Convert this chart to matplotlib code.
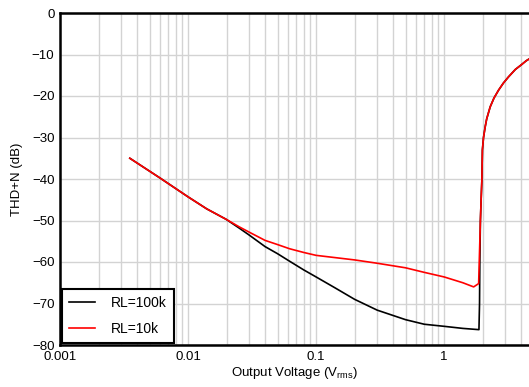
import matplotlib
matplotlib.use("Agg")
from matplotlib import pyplot as plt
from matplotlib.ticker import LogLocator, NullFormatter, FixedLocator, FixedFormatter

# Output voltage (Vrms) and THD+N (dB) for each load
v_100k = [0.00351, 0.006, 0.01, 0.014, 0.0198, 0.025, 0.03, 0.04, 0.05, 0.062,
          0.08, 0.1, 0.14, 0.2, 0.3, 0.5, 0.7, 1.0, 1.4, 1.87, 1.89, 1.90, 1.92,
          1.95, 1.97, 1.99, 2.03, 2.09, 2.15, 2.29, 2.45, 2.66, 2.9, 3.18, 3.6,
          4.0, 4.38, 4.6]
thd_100k = [-35.0, -39.7, -44.3, -47.2, -49.7, -51.8, -53.5, -56.3, -58.0, -59.8,
            -61.9, -63.6, -66.2, -69.0, -71.6, -73.9, -75.0, -75.5, -76.0, -76.3,
            -70.0, -60.0, -50.0, -44.0, -40.5, -33.0, -30.0, -27.5, -25.5, -22.6,
            -20.5, -18.6, -16.9, -15.4, -13.6, -12.5, -11.5, -11.1]

v_10k = [0.00351, 0.006, 0.01, 0.014, 0.0198, 0.025, 0.03, 0.04, 0.05, 0.062,
         0.08, 0.1, 0.2, 0.3, 0.5, 0.7, 1.0, 1.4, 1.70, 1.86, 1.88, 1.90, 1.92,
         1.95, 1.97, 1.99, 2.03, 2.09, 2.15, 2.29, 2.45, 2.66, 2.9, 3.18, 3.6,
         4.0, 4.38, 4.6]
thd_10k = [-35.0, -39.7, -44.3, -47.2, -49.7, -51.5, -52.8, -54.8, -55.8, -56.8,
           -57.7, -58.4, -59.5, -60.3, -61.4, -62.5, -63.6, -65.0, -66.0, -65.2,
           -60.0, -55.0, -50.0, -44.0, -40.5, -33.0, -30.0, -27.5, -25.5, -22.6,
           -20.5, -18.6, -16.9, -15.4, -13.6, -12.5, -11.5, -11.1]

x_ticks = [0.001, 0.01, 0.1, 1]
x_labels = ["0.001", "0.01", "0.1", "1"]
y_ticks = [0, -10, -20, -30, -40, -50, -60, -70, -80]

plt.rcParams["font.family"] = ["Liberation Sans", "DejaVu Sans"]
plt.rcParams["mathtext.fontset"] = "custom"
plt.rcParams["mathtext.rm"] = "Liberation Sans"

fig = plt.figure(figsize=(5.29, 3.87), dpi=100)
ax = fig.add_axes([60 / 529, 1 - 345 / 387, 1 - 60 / 529, 332 / 387])

ax.plot(v_100k, thd_100k, color="black", lw=1.2, label="RL=100k")
ax.plot(v_10k, thd_10k, color="#ff0000", lw=1.2, label="RL=10k")

ax.set_xscale("log")
ax.set_xlim(0.001, 4.6)
ax.set_ylim(-80, 0)
ax.xaxis.set_major_locator(FixedLocator(x_ticks))
ax.xaxis.set_major_formatter(FixedFormatter(x_labels))
ax.xaxis.set_minor_locator(LogLocator(base=10, subs=range(2, 10), numticks=20))
ax.xaxis.set_minor_formatter(NullFormatter())
ax.set_yticks(y_ticks)

ax.grid(True, which="both", color="#d3d3d3", lw=1.0)
ax.set_axisbelow(True)
ax.tick_params(which="both", length=0, labelsize=9.5, pad=4)
for side in ["top", "bottom", "left"]:
    ax.spines[side].set_linewidth(1.8)
ax.spines["right"].set_visible(False)

ax.set_xlabel("Output Voltage (V$_{\\mathregular{rms}}$)", fontsize=9.5, labelpad=2)
ax.set_ylabel("THD+N (dB)", fontsize=9.5, labelpad=6)

leg = ax.legend(loc="lower left", fontsize=10, borderaxespad=0.15, fancybox=False,
                handlelength=1.9, handletextpad=1.1, borderpad=0.5, labelspacing=0.85)
leg.get_frame().set_edgecolor("black")
leg.get_frame().set_linewidth(1.5)
leg.get_frame().set_alpha(1)

fig.savefig("out.png", dpi=100)
